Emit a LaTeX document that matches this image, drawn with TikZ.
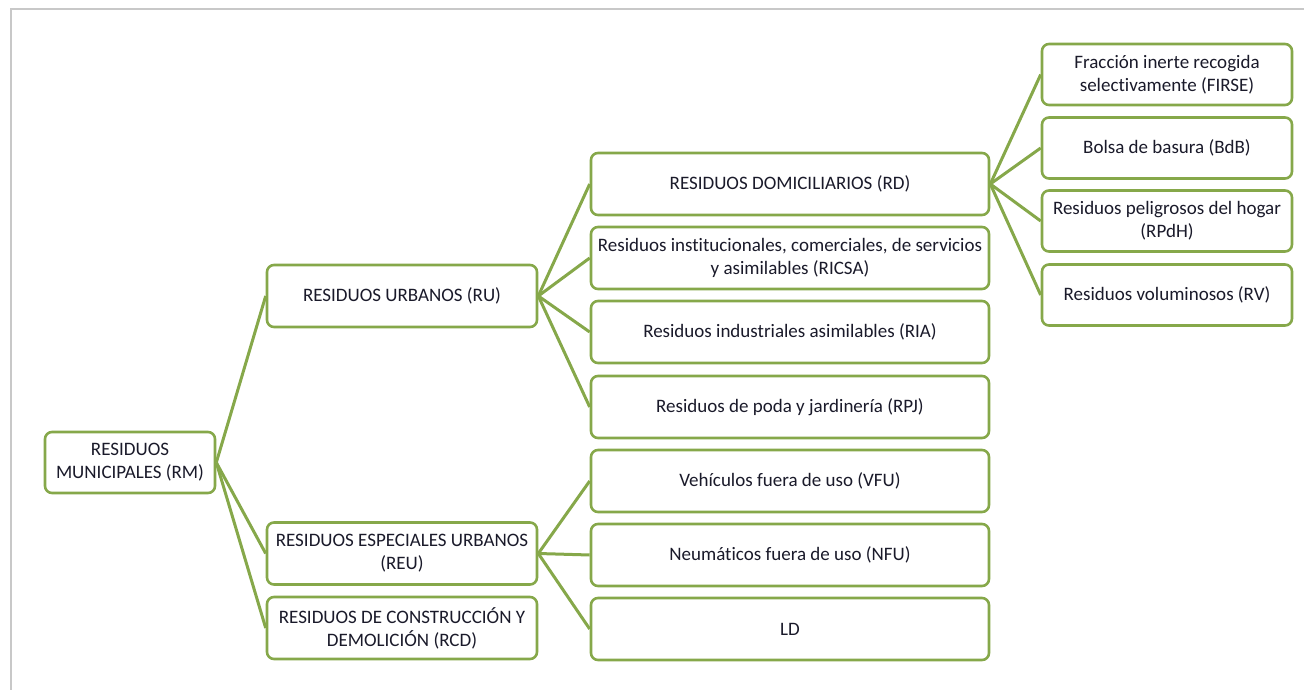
\documentclass[tikz,border=0pt]{standalone}
\usepackage{fontspec}
\setmainfont[RawFeature=-liga]{Carlito}
\definecolor{boxgreen}{HTML}{86A84A}
\definecolor{framegray}{HTML}{C8C8C8}
\definecolor{txt}{HTML}{1A1A2A}
\begin{document}
\begin{tikzpicture}[x=1pt,y=-1pt,
  box/.style={draw=boxgreen, line width=2.6pt, rounded corners=7pt, fill=white,
    align=center, inner sep=2pt, text=txt,
    font=\fontsize{19}{23}\selectfont},
  lvla/.style={box, minimum width=170pt, minimum height=61pt},
  lvlb/.style={box, minimum width=270pt, minimum height=62pt},
  lvlc/.style={box, minimum width=398pt, minimum height=62pt},
  lvld/.style={box, minimum width=250pt, minimum height=61pt},
  link/.style={draw=boxgreen, line width=3pt}]
\useasboundingbox (0,0) rectangle (1304,690);
\draw[framegray, line width=2pt] (11,690) -- (11,9) -- (1304,9);

\node[lvla] (RM) at (130,462.5) {RESIDUOS\\MUNICIPALES (RM)};

\node[lvlb] (RU) at (402,296) {RESIDUOS URBANOS (RU)};
\node[lvlb] (REU) at (402,553.5) {RESIDUOS ESPECIALES URBANOS\\(REU)};
\node[lvlb] (RCD) at (402,628) {RESIDUOS DE CONSTRUCCIÓN Y\\DEMOLICIÓN (RCD)};

\node[lvlc] (RD) at (790,184) {RESIDUOS DOMICILIARIOS (RD)};
\node[lvlc] (RICSA) at (790,258) {Residuos institucionales, comerciales, de servicios\\y asimilables (RICSA)};
\node[lvlc] (RIA) at (790,332) {Residuos industriales asimilables (RIA)};
\node[lvlc] (RPJ) at (790,407) {Residuos de poda y jardinería (RPJ)};
\node[lvlc] (VFU) at (790,481) {Vehículos fuera de uso (VFU)};
\node[lvlc] (NFU) at (790,555) {Neumáticos fuera de uso (NFU)};
\node[lvlc] (LD) at (790,629) {LD};

\node[lvld] (FIRSE) at (1167,74.5) {Fracción inerte recogida\\selectivamente (FIRSE)};
\node[lvld] (BdB) at (1167,148) {Bolsa de basura (BdB)};
\node[lvld] (RPdH) at (1167,221) {Residuos peligrosos del hogar\\(RPdH)};
\node[lvld] (RV) at (1167,295) {Residuos voluminosos (RV)};

\foreach \c in {RU,REU,RCD} \draw[link] (RM.east) -- (\c.west);
\foreach \c in {RD,RICSA,RIA,RPJ} \draw[link] (RU.east) -- (\c.west);
\foreach \c in {VFU,NFU,LD} \draw[link] (REU.east) -- (\c.west);
\foreach \c in {FIRSE,BdB,RPdH,RV} \draw[link] (RD.east) -- (\c.west);
\end{tikzpicture}
\end{document}
